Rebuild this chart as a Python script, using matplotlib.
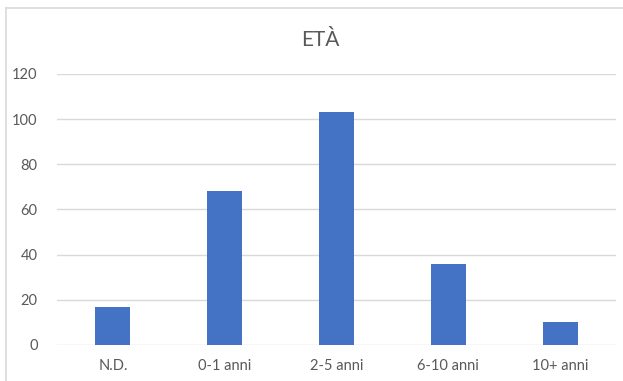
import matplotlib.pyplot as plt
import numpy as np

categories = ['N.D.', '0-1 anni', '2-5 anni', '6-10 anni', '10+ anni']
counts = [17, 68, 103, 36, 10]
yticks = [0, 20, 40, 60, 80, 100, 120]

plt.rcParams['font.family'] = ['Lato', 'DejaVu Sans']
grey = '#595959'
W, H = 623, 381

fig = plt.figure(figsize=(W / 100, H / 100), dpi=100)
ax = fig.add_axes([57 / W, 1 - 345 / H, 559 / W, 271 / H])

x = np.arange(len(categories))
ax.bar(x, counts, width=0.313, color='#4472C4', zorder=3)

ax.set_xlim(-0.5, len(categories) - 0.5)
ax.set_ylim(0, 120)
ax.set_yticks(yticks)
ax.set_xticks(x)
ax.set_xticklabels(categories)
ax.grid(axis='y', color='#d9d9d9', linewidth=1, zorder=0)
ax.tick_params(length=0, labelsize=10.5, labelcolor=grey)
ax.tick_params(axis='y', pad=14)
ax.tick_params(axis='x', pad=10)
for s in ax.spines.values():
    s.set_visible(False)

fig.text(320 / W, 1 - 40 / H, 'ETÀ', ha='center', va='center',
         fontsize=15, color=grey)

# chart frame (left and top edges)
fig.add_artist(plt.Line2D([6 / W, 6 / W], [0, 1 - 8 / H],
                          color='#d9d9d9', lw=1.2, transform=fig.transFigure))
fig.add_artist(plt.Line2D([6 / W, 1], [1 - 8 / H, 1 - 8 / H],
                          color='#d9d9d9', lw=1.2, transform=fig.transFigure))

fig.savefig('out.png', dpi=100)
